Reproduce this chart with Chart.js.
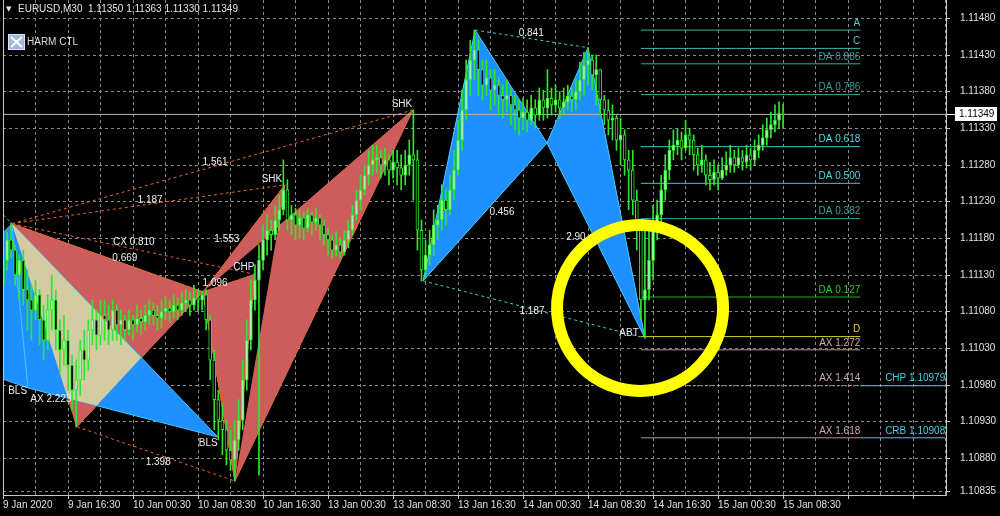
<!DOCTYPE html>
<html><head><meta charset="utf-8">
<script src="https://cdn.jsdelivr.net/npm/chart.js@4/dist/chart.umd.min.js"></script>
<style>html,body{margin:0;padding:0;background:#000;overflow:hidden}canvas{display:block}</style>
</head><body>
<canvas id="c" width="1000" height="516" style="width:1000px;height:516px"></canvas>
<script>
// ---------- DATA ----------
const symbolTitle = 'EURUSD,M30';
const xTickLabels = ['9 Jan 2020','9 Jan 16:30','10 Jan 00:30','10 Jan 08:30','10 Jan 16:30','13 Jan 00:30','13 Jan 08:30','13 Jan 16:30','14 Jan 00:30','14 Jan 08:30','14 Jan 16:30','15 Jan 00:30','15 Jan 08:30'];
const yTickValues = [1.11480,1.11430,1.11380,1.11330,1.11280,1.11230,1.11180,1.11130,1.11080,1.11030,1.10980,1.10930,1.10880,1.10835];

const firstOpen = 1.11116;
const closes = [
1.11150,1.11178,1.11164,1.11130,1.11150,1.11110,1.11096,1.11082,1.11103,1.11069,
1.11041,1.11082,1.11096,1.11055,1.11028,1.11041,1.11007,1.10973,1.10987,1.11028,
1.11014,1.11055,1.11069,1.11048,1.11075,1.11069,1.11055,1.11082,1.11062,1.11069,
1.11055,1.11069,1.11062,1.11071,1.11066,1.11075,1.11082,1.11075,1.11071,1.11080,
1.11085,1.11080,1.11089,1.11082,1.11092,1.11096,1.11089,1.11099,1.11096,1.11103,
1.11069,1.11014,1.10960,1.10932,1.10919,1.10891,1.10878,1.10905,1.10932,1.10987,
1.11041,1.11096,1.11123,1.11150,1.11178,1.11191,1.11185,1.11205,1.11219,1.11246,
1.11205,1.11212,1.11198,1.11208,1.11194,1.11212,1.11202,1.11208,1.11198,1.11185,
1.11178,1.11164,1.11171,1.11161,1.11178,1.11191,1.11212,1.11232,1.11246,1.11266,
1.11280,1.11287,1.11290,1.11280,1.11287,1.11273,1.11284,1.11276,1.11266,1.11280,
1.11294,1.11287,1.11191,1.11137,1.11157,1.11171,1.11198,1.11205,1.11232,1.11219,
1.11246,1.11273,1.11314,1.11355,1.11396,1.11423,1.11437,1.11410,1.11389,1.11399,
1.11382,1.11389,1.11375,1.11369,1.11375,1.11362,1.11355,1.11344,1.11352,1.11341,
1.11358,1.11348,1.11369,1.11358,1.11371,1.11362,1.11369,1.11358,1.11366,1.11374,
1.11369,1.11380,1.11396,1.11416,1.11423,1.11403,1.11410,1.11369,1.11355,1.11341,
1.11344,1.11314,1.11321,1.11287,1.11273,1.11232,1.11191,1.11096,1.11110,1.11150,
1.11191,1.11212,1.11246,1.11273,1.11300,1.11307,1.11314,1.11303,1.11321,1.11314,
1.11294,1.11280,1.11287,1.11266,1.11260,1.11270,1.11262,1.11273,1.11280,1.11290,
1.11280,1.11290,1.11284,1.11294,1.11287,1.11300,1.11307,1.11317,1.11328,1.11335,
1.11341,1.11350,1.11349];
const highs = [
1.11171,1.11189,1.11201,1.11171,1.11157,1.11164,1.11137,1.11116,1.11123,1.11110,
1.11089,1.11103,1.11130,1.11110,1.11069,1.11075,1.11055,1.11021,1.11014,1.11041,
1.11055,1.11069,1.11096,1.11082,1.11096,1.11096,1.11089,1.11096,1.11089,1.11082,
1.11075,1.11082,1.11075,1.11089,1.11082,1.11089,1.11096,1.11092,1.11088,1.11096,
1.11101,1.11096,1.11103,1.11099,1.11107,1.11110,1.11107,1.11116,1.11110,1.11108,
1.11110,1.11075,1.11028,1.10973,1.10953,1.10932,1.10919,1.10932,1.10960,1.11014,
1.11069,1.11123,1.11144,1.11171,1.11198,1.11212,1.11205,1.11225,1.11239,1.11287,
1.11260,1.11225,1.11221,1.11219,1.11216,1.11221,1.11216,1.11221,1.11212,1.11205,
1.11194,1.11185,1.11189,1.11180,1.11191,1.11205,1.11225,1.11246,1.11266,1.11280,
1.11300,1.11307,1.11307,1.11300,1.11303,1.11294,1.11300,1.11300,1.11294,1.11300,
1.11314,1.11355,1.11300,1.11205,1.11178,1.11191,1.11219,1.11225,1.11253,1.11246,
1.11266,1.11300,1.11341,1.11382,1.11423,1.11450,1.11464,1.11450,1.11423,1.11423,
1.11410,1.11410,1.11399,1.11389,1.11396,1.11385,1.11375,1.11369,1.11371,1.11369,
1.11375,1.11369,1.11385,1.11382,1.11410,1.11385,1.11389,1.11380,1.11385,1.11389,
1.11385,1.11396,1.11420,1.11434,1.11440,1.11430,1.11430,1.11410,1.11375,1.11369,
1.11362,1.11348,1.11344,1.11328,1.11300,1.11300,1.11246,1.11198,1.11205,1.11191,
1.11225,1.11232,1.11266,1.11294,1.11314,1.11328,1.11330,1.11325,1.11341,1.11330,
1.11321,1.11303,1.11307,1.11294,1.11284,1.11287,1.11280,1.11290,1.11298,1.11307,
1.11300,1.11303,1.11300,1.11307,1.11303,1.11314,1.11321,1.11335,1.11344,1.11352,
1.11362,1.11366,1.11363];
const lows = [
1.11110,1.11137,1.11153,1.11116,1.11096,1.11089,1.11055,1.11041,1.11069,1.11035,
1.11014,1.11028,1.11055,1.11028,1.10994,1.11007,1.10973,1.10946,1.10923,1.10966,
1.10987,1.11000,1.11035,1.11028,1.11035,1.11041,1.11035,1.11041,1.11041,1.11035,
1.11041,1.11048,1.11041,1.11052,1.11048,1.11055,1.11062,1.11062,1.11055,1.11058,
1.11069,1.11066,1.11071,1.11069,1.11075,1.11080,1.11075,1.11082,1.11080,1.11082,
1.11055,1.10987,1.10919,1.10905,1.10885,1.10871,1.10864,1.10849,1.10891,1.10919,
1.10973,1.11028,1.11082,1.10857,1.11137,1.11157,1.11164,1.11178,1.11191,1.11212,
1.11191,1.11185,1.11178,1.11180,1.11178,1.11189,1.11185,1.11191,1.11178,1.11171,
1.11157,1.11153,1.11156,1.11153,1.11157,1.11167,1.11185,1.11205,1.11219,1.11239,
1.11253,1.11266,1.11270,1.11262,1.11266,1.11253,1.11262,1.11253,1.11246,1.11253,
1.11266,1.11232,1.11164,1.11122,1.11126,1.11144,1.11157,1.11178,1.11191,1.11198,
1.11212,1.11232,1.11266,1.11300,1.11341,1.11375,1.11396,1.11375,1.11369,1.11375,
1.11355,1.11362,1.11348,1.11344,1.11352,1.11335,1.11328,1.11321,1.11328,1.11325,
1.11335,1.11330,1.11341,1.11341,1.11344,1.11348,1.11352,1.11344,1.11348,1.11355,
1.11352,1.11355,1.11369,1.11375,1.11389,1.11382,1.11362,1.11348,1.11335,1.11321,
1.11314,1.11300,1.11280,1.11266,1.11219,1.11212,1.11164,1.11069,1.11044,1.11096,
1.11123,1.11178,1.11191,1.11232,1.11260,1.11287,1.11294,1.11287,1.11300,1.11294,
1.11273,1.11266,1.11270,1.11253,1.11246,1.11253,1.11246,1.11260,1.11266,1.11270,
1.11270,1.11276,1.11273,1.11276,1.11273,1.11280,1.11290,1.11300,1.11307,1.11317,
1.11325,1.11330,1.11330];

// harmonic pattern vertices: [bar index, price]
const cypherXAB    = [[2.2,1.11200],[18.2,1.10923],[49.2,1.11107]];
const cypherBCD    = [[49.2,1.11107],[57.1,1.10849],[62.0,1.11131]];
const shark1BCD    = [[49.2,1.11107],[57.1,1.10849],[69.4,1.11253]];
const shark2BCD    = [[49.2,1.11107],[57.1,1.10849],[100.9,1.11355]];
const sharkOverlap = [[49.2,1.11107],[57.1,1.10849],[67.74,1.11195]];
const blsLeft      = [[-1,1.11182],[2.2,1.11200],[6.15,1.10976],[-1,1.10990]];
const blsBCD       = [[2.2,1.11200],[6.15,1.10976],[52.9,1.10909]];
const blsOverlap   = [[2.2,1.11200],[15.95,1.10962],[23.1,1.10952],[34.0,1.11017]];
const abtXAB       = [[103.4,1.11122],[116.2,1.11464],[133.9,1.11310]];
const abtBCD       = [[133.9,1.11310],[144.0,1.11440],[158.0,1.11044]];

const orangeRatioLines = [
  [[2.2,1.11200],[100.9,1.11355]],
  [[2.2,1.11200],[69.4,1.11253]],
  [[2.2,1.11200],[62.0,1.11131]],
  [[2.2,1.11200],[49.2,1.11107]],
  [[18.2,1.10923],[57.1,1.10849]],
  [[49.2,1.11107],[69.4,1.11253]]
];
const cyanRatioLines = [
  [[116.2,1.11464],[144.0,1.11440]],
  [[103.4,1.11122],[158.0,1.11044]],
  [[-1,1.11218],[2.2,1.11200]]
];

const patternLabels = [
  ['1.561',52.2,1.11284],['1.187',36.2,1.11232],['SHK',66.2,1.11260],['SHK',98.2,1.11363],
  ['CX 0.810',32.2,1.11174],['0.669',30.0,1.11153],['1.096',52.2,1.11119],['CHP',59.3,1.11141],
  ['1.553',55.1,1.11179],['BLS',3.6,1.10972],['AX 2.223',11.8,1.10961],['BLS',50.5,1.10901],
  ['1.398',38.2,1.10875],['0.841',130.0,1.11460],['0.456',122.8,1.11215],['2.90',141.0,1.11182],
  ['1.187',130.2,1.11080],['ABT',154.1,1.11050]
];

const fibNames  = ['A','C','DA 0.886','DA 0.786','DA 0.618','DA 0.500','DA 0.382','DA 0.127','D','AX 1.272','AX 1.414','AX 1.618'];
const fibPrices = [1.11464,1.11439,1.11418,1.11376,1.11305,1.11255,1.11207,1.11100,1.11046,1.11028,1.10979,1.10908];
const fibFrom = 157, fibTo = 211;
const extNames  = ['CHP 1.10979','CRB 1.10908'];
const extPrices = [1.10979,1.10908];
const extTo = 231.9;
const circleCenter = {x:156.8, y:1.11085};

// ---------- STYLES ----------
const fibStyle = [
  {line:'#3cb4b4',text:'#4ccccc'},{line:'#3cb4b4',text:'#4ccccc'},
  {line:'#3aa8a8',text:'#3a9c9c'},{line:'#3aa8a8',text:'#3a9c9c'},
  {line:'#44c4d0',text:'#52d6e6'},{line:'#44c4d0',text:'#52d6e6'},
  {line:'#2c9494',text:'#3aa0a6'},{line:'#20b420',text:'#30c830'},
  {line:'#d6d626',text:'#e6d83a'},{line:'#b89494',text:'#d2aaaa'},
  {line:'#c09a9a',text:'#d2aaaa',dash:[2,2]},{line:'#b89494',text:'#d2aaaa'}
];
const RED='#cd5c5c', BLUE='#1e90ff', BEIGE='#d3cca3';
const GRID='#8a8a8a';

// ---------- BUILD ----------
const opens = closes.map((c,i)=> i===0 ? firstOpen : closes[i-1]);
const last = closes.length-1;
const pts = arr => arr.map(p=>({x:p[0],y:p[1]}));
const closed = arr => pts(arr.concat([arr[0]]));

const datasets = [];
function poly(arr, color, border, order){
  datasets.push({type:'line', data:closed(arr), fill:'shape', backgroundColor:color,
    borderColor:border, borderWidth:border==='transparent'?0:1, pointRadius:0, tension:0, order});
}
poly(shark2BCD, RED, '#e06a3c', 120);
poly(shark1BCD, RED, '#e06a3c', 119);
poly(sharkOverlap, '#000000', 'transparent', 118);
poly(cypherBCD, RED, '#e06a3c', 117);
poly(cypherXAB, RED, '#e06a3c', 116);
poly(blsLeft, BLUE, '#3cc8ff', 115);
poly(blsBCD, BLUE, '#3cc8ff', 114);
poly(blsOverlap, BEIGE, 'transparent', 113);
poly(abtXAB, BLUE, '#48d0ff', 112);
poly(abtBCD, BLUE, '#48d0ff', 111);

orangeRatioLines.forEach(l=>datasets.push({type:'line',data:pts(l),borderColor:'#ec6420',borderWidth:1,borderDash:[3,3],pointRadius:0,fill:false,order:60}));
cyanRatioLines.forEach(l=>datasets.push({type:'line',data:pts(l),borderColor:'#40c8dc',borderWidth:1,borderDash:[3,3],pointRadius:0,fill:false,order:60}));

fibPrices.forEach((p,i)=>datasets.push({type:'line',data:[{x:fibFrom,y:p},{x:fibTo,y:p}],borderColor:fibStyle[i].line,borderWidth:1,borderDash:fibStyle[i].dash||[],pointRadius:0,fill:false,order:50}));
extPrices.forEach(p=>datasets.push({type:'line',data:[{x:fibTo,y:p},{x:extTo,y:p}],borderColor:'#3ccce4',borderWidth:1,pointRadius:0,fill:false,order:50}));

// bid line
datasets.push({type:'line',data:[{x:-1,y:closes[last]},{x:240,y:closes[last]}],borderColor:'#b8b8b8',borderWidth:1,pointRadius:0,fill:false,order:45});

// candles
datasets.push({type:'bar',data:closes.map((c,i)=>({x:i,y:[lows[i],highs[i]]})),backgroundColor:'#2ee62e',barThickness:1,grouped:false,order:20});
datasets.push({type:'bar',data:closes.map((c,i)=>({x:i,y:[opens[i],c]})),
  backgroundColor:closes.map((c,i)=>c>=opens[i]?'#a8f5a8':'#000000'),borderColor:'#2ee62e',borderWidth:1,borderSkipped:false,
  barThickness:3,grouped:false,order:19});

// highlight circle
datasets.push({type:'line',data:[circleCenter],showLine:false,pointRadius:83,pointBorderWidth:12,
  pointBackgroundColor:'rgba(0,0,0,0)',pointBorderColor:'#ffff00',order:1,clip:false});

const FONT='"Liberation Sans", Arial, sans-serif';
Chart.defaults.font.family = FONT;
Chart.defaults.font.size = 10;

const overlay = {
  id:'overlay',
  afterDatasetsDraw(chart){
    const {ctx, scales:{x,y}} = chart;
    ctx.save();
    ctx.font = '10px '+FONT;
    ctx.textBaseline='middle';
    ctx.textAlign='right';
    fibNames.forEach((n,i)=>{ctx.fillStyle=fibStyle[i].text; ctx.fillText(n, x.getPixelForValue(fibTo), y.getPixelForValue(fibPrices[i])-7);});
    extNames.forEach((n,i)=>{ctx.fillStyle='#40d0e8'; ctx.fillText(n, x.getPixelForValue(extTo), y.getPixelForValue(extPrices[i])-7);});
    ctx.textAlign='center';
    ctx.fillStyle='#ececec';
    patternLabels.forEach(l=>ctx.fillText(l[0], x.getPixelForValue(l[1]), y.getPixelForValue(l[2])));
    ctx.restore();
  },
  afterDraw(chart){
    const {ctx, chartArea:a, scales:{y}} = chart;
    ctx.save();
    ctx.strokeStyle='#c8c8c8'; ctx.lineWidth=1;
    ctx.beginPath();
    ctx.moveTo(a.left+0.5,0); ctx.lineTo(a.left+0.5,a.bottom+0.5);
    ctx.lineTo(a.right+0.5,a.bottom+0.5); ctx.lineTo(a.right+0.5,0);
    ctx.stroke();
    // current price box
    const yp = Math.round(y.getPixelForValue(closes[last]));
    ctx.fillStyle='#ffffff';
    ctx.fillRect(a.right+1, yp, 9, 1);
    ctx.fillRect(955, yp-7, 42, 14);
    ctx.fillStyle='#000'; ctx.font='10px '+FONT; ctx.textBaseline='middle'; ctx.textAlign='left';
    ctx.fillText(closes[last].toFixed(5), 959, yp);
    // header
    ctx.fillStyle='#e6e6e6';
    ctx.font='7px "DejaVu Sans"';
    ctx.fillText('▼', 6, 9);
    ctx.font='10px '+FONT;
    ctx.fillText(symbolTitle+'  '+[opens[last],highs[last],lows[last],closes[last]].map(v=>v.toFixed(5)).join(' '), 18, 9);
    // checkbox + indicator name
    ctx.fillStyle='#9fb8dc'; ctx.fillRect(8,34,17,16);
    ctx.strokeStyle='#dfe8f5'; ctx.strokeRect(8.5,34.5,16,15);
    ctx.strokeStyle='#ffffff'; ctx.lineWidth=2;
    ctx.beginPath(); ctx.moveTo(11,37); ctx.lineTo(22,47); ctx.moveTo(22,37); ctx.lineTo(11,47); ctx.stroke();
    ctx.fillStyle='#dcdcdc'; ctx.fillText('HARM CTL', 27, 42);
    ctx.restore();
  }
};

new Chart(document.getElementById('c'), {
  type:'bar',
  data:{datasets},
  options:{
    responsive:false, animation:false, devicePixelRatio:1, events:[],
    layout:{autoPadding:false,padding:{left:3,top:0,right:0,bottom:0}},
    plugins:{legend:{display:false},tooltip:{enabled:false}},
    scales:{
      x:{type:'linear',min:0,max:232.1,offset:false,
        afterBuildTicks(s){const t=[];for(let v=0;v<=232;v+=8)t.push({value:v});s.ticks=t;},
        afterFit(s){s.height=21;s.paddingLeft=0;s.paddingRight=0;},
        ticks:{autoSkip:false,maxRotation:0,minRotation:0,align:'start',padding:0,color:'#e0e0e0',
          font:{size:10},callback:v=>(v%16===0 && xTickLabels[v/16])?xTickLabels[v/16]:''},
        grid:{color:GRID,offset:false,tickLength:4,tickColor:c=>(c.tick&&c.tick.value%16===0)?'#c8c8c8':'rgba(0,0,0,0)'},
        border:{display:false,dash:[3,3]}
      },
      y:{type:'linear',position:'right',min:1.10830,max:1.11505,
        afterBuildTicks(s){s.ticks=yTickValues.map(v=>({value:v}));},
        afterFit(s){s.width=54;s.paddingTop=0;s.paddingBottom=0;},
        ticks:{padding:10,color:'#e0e0e0',font:{size:10},callback:v=>Number(v).toFixed(5)},
        grid:{color:GRID,tickLength:4,tickColor:'#c8c8c8'},
        border:{display:false,dash:[3,3]}
      }
    }
  },
  plugins:[overlay]
});
</script>
</body></html>
